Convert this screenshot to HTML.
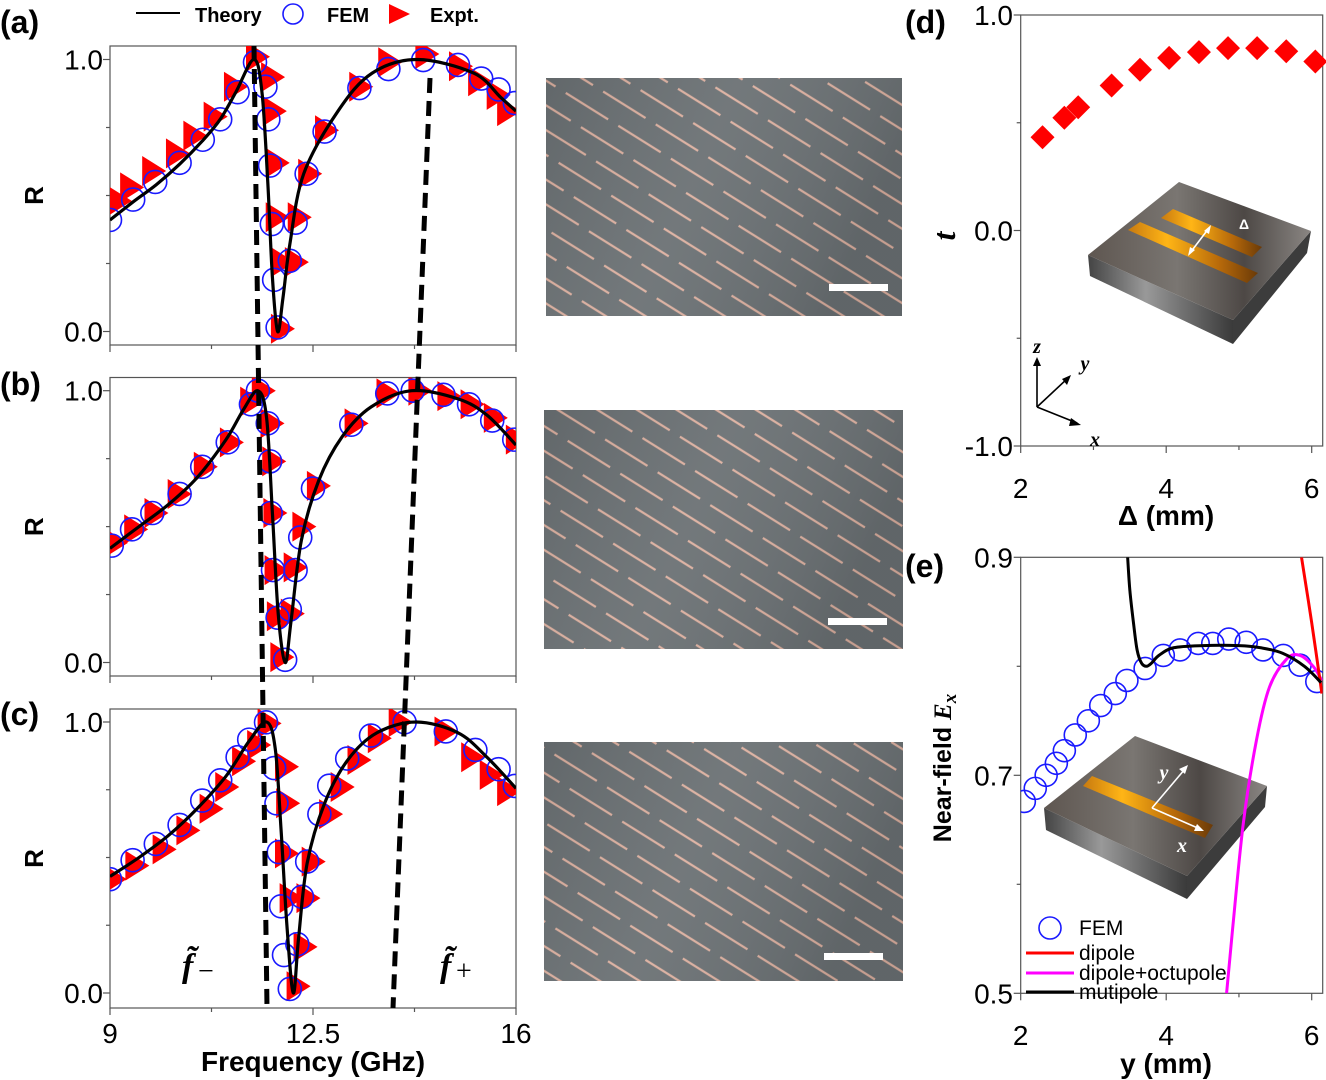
<!DOCTYPE html>
<html><head><meta charset="utf-8"><style>
html,body{margin:0;padding:0;background:#fff;}
svg{display:block;font-family:"Liberation Sans",sans-serif;}
</style></head><body>
<svg id="fig" width="1326" height="1080" viewBox="0 0 1326 1080" xmlns="http://www.w3.org/2000/svg">
<defs>
<pattern id="strips" patternUnits="userSpaceOnUse" width="124" height="42" patternTransform="rotate(32)">
<rect width="124" height="42" fill="#6a7073"/>
<line x1="2" y1="10" x2="52" y2="10" stroke="#dcb0a0" stroke-width="2.2"/>
<line x1="64" y1="10" x2="114" y2="10" stroke="#dcb0a0" stroke-width="2.2"/>
<line x1="33" y1="31" x2="83" y2="31" stroke="#dcb0a0" stroke-width="2.2"/>
<line x1="95" y1="31" x2="145" y2="31" stroke="#dcb0a0" stroke-width="2.2"/>
<line x1="-29" y1="31" x2="21" y2="31" stroke="#dcb0a0" stroke-width="2.2"/>
</pattern>
<linearGradient id="shade" x1="0" y1="0" x2="1" y2="0.3">
<stop offset="0" stop-color="#000" stop-opacity="0.08"/><stop offset="0.5" stop-color="#fff" stop-opacity="0.06"/><stop offset="1" stop-color="#000" stop-opacity="0.1"/>
</linearGradient>
<linearGradient id="gold" x1="0" y1="0" x2="1" y2="0">
<stop offset="0" stop-color="#c87a10"/><stop offset="0.3" stop-color="#ffb516"/><stop offset="0.7" stop-color="#b86a0a"/><stop offset="1" stop-color="#6a3a08"/>
</linearGradient>
<linearGradient id="slab" x1="0" y1="0" x2="1" y2="0">
<stop offset="0" stop-color="#5e5650"/><stop offset="0.4" stop-color="#7a7672"/><stop offset="0.7" stop-color="#4d4845"/><stop offset="1" stop-color="#8a8683"/>
</linearGradient>
<linearGradient id="side" x1="0" y1="0" x2="1" y2="0">
<stop offset="0" stop-color="#444"/><stop offset="0.4" stop-color="#999"/><stop offset="1" stop-color="#3a3a3a"/>
</linearGradient>
</defs>
<g id="root"></g>
</svg>
<script>
// ---------- data: panels a,b,c (R vs Frequency) ----------
const theoryA_f=[9,9.42,9.8,10.2,10.59,10.9,11.17,11.48,11.62,11.72,11.8,11.89,11.98,12.1,12.34,12.93,13.52,14.3,15.27,15.74,16];
const theoryA_R=[0.41,0.48,0.54,0.615,0.7,0.78,0.88,1.0,0.88,0.55,0.2,0.0,0.12,0.32,0.58,0.81,0.95,1.0,0.95,0.86,0.81];
const femA_f=[9.0,9.4,9.78,10.2,10.6,10.9,11.2,11.5,11.68,11.73,11.76,11.79,11.83,11.89,12.1,12.2,12.39,12.7,13.3,13.8,14.4,15.0,15.4,15.7,15.98];
const femA_R=[0.41,0.485,0.55,0.62,0.705,0.78,0.88,0.99,0.90,0.78,0.61,0.395,0.19,0.015,0.26,0.40,0.58,0.735,0.895,0.965,0.998,0.98,0.93,0.89,0.84];
const expA_f=[9.12,9.33,9.71,10.12,10.42,10.77,11.12,11.5,11.76,11.79,11.84,11.84,11.93,11.93,12.22,12.17,12.4,12.69,13.28,13.78,14.42,15.0,15.33,15.65,15.83];
const expA_R=[0.48,0.53,0.59,0.655,0.72,0.79,0.90,1.01,0.935,0.81,0.62,0.42,0.255,0.01,0.42,0.255,0.58,0.74,0.90,0.99,1.02,0.975,0.92,0.87,0.81];

const theoryB_f=[9,9.5,10,10.5,11,11.3,11.55,11.7,11.8,11.9,12.02,12.12,12.3,12.6,13,13.5,14.2,15,15.5,16];
const theoryB_R=[0.42,0.5,0.58,0.68,0.82,0.93,1.0,0.9,0.55,0.18,0.0,0.15,0.45,0.67,0.83,0.94,1.0,0.97,0.91,0.8];
const femB_f=[9.03,9.38,9.73,10.2,10.59,11.03,11.43,11.55,11.72,11.76,11.77,11.81,11.89,12.02,12.1,12.2,12.28,12.5,13.16,13.78,14.22,14.75,15.19,15.59,15.97];
const femB_R=[0.43,0.49,0.55,0.62,0.72,0.81,0.95,1.0,0.88,0.74,0.55,0.34,0.165,0.01,0.195,0.34,0.46,0.64,0.875,0.99,1.0,0.985,0.95,0.89,0.82];
const expB_f=[9.05,9.4,9.75,10.15,10.6,11.05,11.4,11.6,11.75,11.78,11.8,11.82,11.86,11.92,12.1,12.15,12.3,12.55,13.2,13.75,14.3,14.8,15.2,15.6,15.98];
const expB_R=[0.44,0.49,0.55,0.62,0.72,0.81,0.96,1.0,0.88,0.74,0.55,0.34,0.17,0.02,0.18,0.35,0.5,0.65,0.88,0.99,1.0,0.98,0.95,0.9,0.82];

const theoryC_f=[9,9.5,10,10.5,11,11.4,11.7,11.85,11.95,12.05,12.16,12.25,12.4,12.7,13.1,13.6,14.28,15,15.5,16];
const theoryC_R=[0.43,0.5,0.58,0.68,0.8,0.93,1.0,0.9,0.6,0.25,0.0,0.2,0.48,0.7,0.86,0.96,1.0,0.96,0.87,0.755];
const femC_f=[9.0,9.39,9.79,10.2,10.59,10.9,11.2,11.4,11.69,11.83,11.87,11.91,11.95,12.0,12.1,12.23,12.31,12.4,12.61,12.78,13.09,13.5,14.08,14.79,15.3,15.7,15.98];
const femC_R=[0.42,0.49,0.55,0.62,0.71,0.785,0.87,0.935,0.999,0.83,0.70,0.52,0.32,0.14,0.015,0.18,0.355,0.485,0.66,0.765,0.865,0.95,0.999,0.965,0.897,0.826,0.764];
const expC_f=[9.03,9.42,9.89,10.3,10.7,10.97,11.26,11.52,11.7,12.0,12.02,12.0,12.46,12.08,12.37,12.32,12.2,12.76,12.96,13.25,13.6,13.96,14.75,15.21,15.53,15.83];
const expC_R=[0.42,0.47,0.53,0.60,0.68,0.76,0.855,0.915,0.995,0.835,0.70,0.515,0.485,0.35,0.35,0.17,0.025,0.66,0.76,0.86,0.94,1.0,0.965,0.87,0.805,0.745];

const freqTicks=[9,12.5,16];
const freqTickLabels=["9","12.5","16"];
const rTicks=[0,1];
const rTickLabels=["0.0","1.0"];

// ---------- panel d ----------
const deltaVals=[2.30,2.60,2.79,3.25,3.64,4.04,4.45,4.85,5.25,5.65,6.05];
const tVals=[0.433,0.523,0.572,0.673,0.746,0.801,0.828,0.846,0.846,0.832,0.784];
const dXTicks=[2,4,6];
const dYTicks=[-1,0,1];
const dYTickLabels=["-1.0","0.0","1.0"];

// ---------- panel e ----------
const femE_y=[2.05,2.2,2.35,2.49,2.60,2.75,2.93,3.10,3.30,3.46,3.71,3.96,4.19,4.44,4.64,4.86,5.10,5.33,5.61,5.84,6.07];
const femE_E=[0.676,0.688,0.700,0.711,0.7226,0.737,0.750,0.764,0.775,0.787,0.798,0.810,0.815,0.821,0.821,0.825,0.822,0.815,0.810,0.801,0.786];
const multi_y=[3.47,3.5,3.55,3.6,3.66,3.73,3.8,3.9,4.1,4.5,5.0,5.3,5.6,5.9,6.13];
const multi_E=[0.9,0.87,0.84,0.815,0.803,0.800,0.803,0.81,0.817,0.819,0.819,0.817,0.812,0.80,0.785];
const dip_y=[5.86,6.0,6.14];
const dip_E=[0.9,0.84,0.775];
const octo_y=[4.83,4.92,5.06,5.24,5.42,5.66,5.84,6.02,6.14];
const octo_E=[0.5,0.564,0.656,0.732,0.781,0.807,0.810,0.800,0.787];
const eYTicks=[0.5,0.7,0.9];
const eYTickLabels=["0.5","0.7","0.9"];

const NS="http://www.w3.org/2000/svg";
const root=document.getElementById('root');
function mk(tag,attrs,parent){const e=document.createElementNS(NS,tag);for(const k in attrs)e.setAttribute(k,attrs[k]);(parent||root).appendChild(e);return e;}
function txt(s,attrs,parent){const e=mk('text',attrs,parent);e.textContent=s;return e;}
function lin(d0,d1,r0,r1){return v=>r0+(v-d0)/(d1-d0)*(r1-r0);}
function crPath(xs,ys){let d=`M${xs[0]},${ys[0]}`;for(let i=0;i<xs.length-1;i++){const x0=xs[Math.max(0,i-1)],y0=ys[Math.max(0,i-1)],x1=xs[i],y1=ys[i],x2=xs[i+1],y2=ys[i+1],x3=xs[Math.min(xs.length-1,i+2)],y3=ys[Math.min(xs.length-1,i+2)];d+=` C${x1+(x2-x0)/6},${y1+(y2-y0)/6} ${x2-(x3-x1)/6},${y2-(y3-y1)/6} ${x2},${y2}`;}return d;}

const panels=[
 {id:'a',top:46,bot:345,y1:59.5,y0:331.5,tf:theoryA_f,tR:theoryA_R,ff:femA_f,fR:femA_R,ef:expA_f,eR:expA_R,lab:'(a)',ly:33},
 {id:'b',top:377.5,bot:676,y1:390.7,y0:662.5,tf:theoryB_f,tR:theoryB_R,ff:femB_f,fR:femB_R,ef:expB_f,eR:expB_R,lab:'(b)',ly:395},
 {id:'c',top:709,bot:1008,y1:722,y0:993,tf:theoryC_f,tR:theoryC_R,ff:femC_f,fR:femC_R,ef:expC_f,eR:expC_R,lab:'(c)',ly:725}
];
const L=110,Rr=516;
const fx=lin(9,16,L,Rr);
panels.forEach(p=>{
 const ry=lin(0,1,p.y0,p.y1);
 const g=mk('g',{});
 
 
 const cp=mk('clipPath',{id:'clip'+p.id},g);mk('rect',{x:L,y:p.top,width:Rr-L,height:p.bot-p.top},cp);
 const fr=mk('rect',{x:L,y:p.top,width:Rr-L,height:p.bot-p.top,fill:'none',stroke:'#555','stroke-width':1.2},g);
 
 
 [0,0.25,0.5,0.75,1].forEach(v=>{mk('line',{x1:L-(v===0||v===1?7:4),x2:L,y1:ry(v),y2:ry(v),stroke:'#555','stroke-width':1.2},g);});
 rTicks.forEach((v,i)=>{const t=txt(rTickLabels[i],{x:L-7,y:ry(v)+10,'text-anchor':'end','font-size':28},g);
  
  });
 [9,10.75,12.5,14.25,16].forEach(v=>{mk('line',{x1:fx(v),x2:fx(v),y1:p.bot,y2:p.bot+([9,12.5,16].includes(v)?7:4),stroke:'#555','stroke-width':1.2},g);});
 const yl=txt('R',{x:0,y:0,transform:`translate(43,${(p.top+p.bot)/2}) rotate(-90)`,'text-anchor':'middle','font-size':26,'font-weight':'bold'},g);
 
 
 const pl=txt(p.lab,{x:0,y:p.ly,'font-size':32,'font-weight':'bold'},g);
 
 
 const cg=mk('g',{'clip-path':`url(#clip${p.id})`},g);
 p.ef.forEach((f,i)=>{const x=fx(f),y=ry(p.eR[i]);const tr=mk('polygon',{points:`${x-9},${y-15} ${x+15},${y} ${x-9},${y+15}`,fill:'#ff0000'},cg);
  
  });
 p.ff.forEach((f,i)=>{const c=mk('circle',{cx:fx(f),cy:ry(p.fR[i]),r:11.5,fill:'none',stroke:'#1a1aff','stroke-width':1.6},cg);
  
  });
 const th=mk('path',{d:crPath(p.tf.map(fx),p.tR.map(ry)),fill:'none',stroke:'#000','stroke-width':3.2},cg);
 
 
});
freqTicks.forEach((v,i)=>{const t=txt(freqTickLabels[i],{x:fx(v),y:1043,'text-anchor':'middle','font-size':28},root);
 
 });
const xt=txt('Frequency (GHz)',{x:313,y:1071,'text-anchor':'middle','font-size':28,'font-weight':'bold'});


const dl=mk('line',{x1:254,y1:46,x2:267,y2:1008,stroke:'#000','stroke-width':5,'stroke-dasharray':'15 8'});


const dr=mk('line',{x1:430,y1:78,x2:393,y2:1008,stroke:'#000','stroke-width':5,'stroke-dasharray':'15 8'});


const fm=txt('f̃',{x:182,y:977,'font-size':34,'font-weight':'bold','font-style':'italic','font-family':'Liberation Serif,serif'});


txt('−',{x:198,y:980,'font-size':28,'font-family':'Liberation Serif,serif'});
const fp=txt('f̃',{x:440,y:977,'font-size':34,'font-weight':'bold','font-style':'italic','font-family':'Liberation Serif,serif'});


txt('+',{x:456,y:980,'font-size':28,'font-family':'Liberation Serif,serif'});
const lg=mk('g',{});


mk('line',{x1:136,y1:13,x2:180,y2:13,stroke:'#000','stroke-width':2},lg);
txt('Theory',{x:195,y:22,'font-size':20,'font-weight':'bold'},lg);
mk('circle',{cx:293,cy:14,r:10,fill:'none',stroke:'#1a1aff','stroke-width':1.6},lg);
txt('FEM',{x:327,y:22,'font-size':20,'font-weight':'bold'},lg);
mk('polygon',{points:'389,4 410,14 389,24',fill:'#ff0000'},lg);
txt('Expt.',{x:430,y:22,'font-size':20,'font-weight':'bold'},lg);

[[546,78,356,238,829,284],[544,410,359,239,828,618],[544,742,359,239,824,953]].forEach((r,i)=>{
 const ph=mk('rect',{x:r[0],y:r[1],width:r[2],height:r[3],fill:'url(#strips)'});
 
 
 mk('rect',{x:r[0],y:r[1],width:r[2],height:r[3],fill:'url(#shade)'});
 const sb=mk('rect',{x:r[4],y:r[5],width:59,height:7,fill:'#fff'});
 
 
});

// ---------- panel d ----------
const DL=1020.7,DR=1322.7;
const dx=lin(2,6,DL,1311.7);
const dy=lin(-1,1,446,15);
const gd=mk('g',{});


mk('rect',{x:DL,y:15,width:DR-DL,height:431,fill:'none',stroke:'#555','stroke-width':1.2},gd);
[-1,-0.5,0,0.5,1].forEach(v=>mk('line',{x1:DL-(v%1===0?7:4),x2:DL,y1:dy(v),y2:dy(v),stroke:'#555','stroke-width':1.2},gd));
[2,3,4,5,6].forEach(v=>mk('line',{x1:dx(v),x2:dx(v),y1:446,y2:446+(v%2===0?7:4),stroke:'#555','stroke-width':1.2},gd));
dYTicks.forEach((v,i)=>{const t=txt(dYTickLabels[i],{x:1013,y:dy(v)+10,'text-anchor':'end','font-size':28},gd);
 
 });
dXTicks.forEach(v=>{const t=txt(String(v),{x:dx(v),y:498,'text-anchor':'middle','font-size':28},gd);
 
 });
txt('Δ (mm)',{x:1166,y:525,'text-anchor':'middle','font-size':28,'font-weight':'bold'},gd);
txt('t',{x:0,y:0,transform:'translate(955,236) rotate(-90)','text-anchor':'middle','font-size':32,'font-weight':'bold','font-style':'italic','font-family':'Liberation Serif,serif'},gd);
txt('(d)',{x:905,y:33,'font-size':32,'font-weight':'bold'},gd);
const ins=mk('g',{},gd);


mk('polygon',{points:'1088,255 1233,320 1233,344 1090,276',fill:'url(#side)'},ins);
mk('polygon',{points:'1233,320 1311,231 1307,253 1233,344',fill:'#3c3c3c'},ins);
mk('polygon',{points:'1088,255 1179,182 1311,231 1233,320',fill:'url(#slab)'},ins);
mk('polygon',{points:'1161,218 1173,209 1262,247 1252,257',fill:'url(#gold)'},ins);
mk('polygon',{points:'1128,230 1140,222 1258,273 1247,283',fill:'url(#gold)'},ins);
mk('line',{x1:1190,y1:253,x2:1209,y2:228,stroke:'#fff','stroke-width':1.6},ins);
mk('polygon',{points:'1188,256 1190,247 1195,250',fill:'#fff'},ins);
mk('polygon',{points:'1211,225 1209,234 1204,231',fill:'#fff'},ins);
txt('Δ',{x:1244,y:229,'text-anchor':'middle','font-size':14,'font-weight':'bold',fill:'#fff'},ins);
const ax=mk('g',{stroke:'#000','stroke-width':1.6},gd);
mk('line',{x1:1037,y1:407,x2:1037,y2:362},ax);
mk('line',{x1:1037,y1:407,x2:1068,y2:378},ax);
mk('line',{x1:1037,y1:407,x2:1077,y2:423},ax);
mk('polygon',{points:'1037,357 1033,366 1041,366',fill:'#000'},gd);
mk('polygon',{points:'1071,375 1062,379 1067,385',fill:'#000'},gd);
mk('polygon',{points:'1081,425 1071,418 1069,426',fill:'#000'},gd);
const ff='Liberation Serif,serif';
txt('z',{x:1037,y:353,'text-anchor':'middle','font-size':20,'font-style':'italic','font-weight':'bold','font-family':ff},gd);
txt('y',{x:1085,y:370,'text-anchor':'middle','font-size':20,'font-style':'italic','font-weight':'bold','font-family':ff},gd);
txt('x',{x:1095,y:446,'text-anchor':'middle','font-size':20,'font-style':'italic','font-weight':'bold','font-family':ff},gd);
deltaVals.forEach((v,i)=>{const x=dx(v),y=dy(tVals[i]);const p=mk('polygon',{points:`${x},${y-12} ${x+12},${y} ${x},${y+12} ${x-12},${y}`,fill:'#ff0000'},gd);
 
 });

// ---------- panel e ----------
const ex=dx;
const ey=lin(0.5,0.9,993.3,557.3);
const ge=mk('g',{});


const cpe=mk('clipPath',{id:'clipe'},ge);mk('rect',{x:DL,y:557.3,width:DR-DL,height:436},cpe);
mk('rect',{x:DL,y:557.3,width:DR-DL,height:436,fill:'none',stroke:'#555','stroke-width':1.2},ge);
[0.5,0.6,0.7,0.8,0.9].forEach((v,i)=>mk('line',{x1:DL-(i%2===0?7:4),x2:DL,y1:ey(v),y2:ey(v),stroke:'#555','stroke-width':1.2},ge));
[2,3,4,5,6].forEach(v=>mk('line',{x1:ex(v),x2:ex(v),y1:993.3,y2:993.3+(v%2===0?7:4),stroke:'#555','stroke-width':1.2},ge));
eYTicks.forEach((v,i)=>{const t=txt(eYTickLabels[i],{x:1013,y:ey(v)+10,'text-anchor':'end','font-size':28},ge);
 
 });
dXTicks.forEach(v=>{const t=txt(String(v),{x:ex(v),y:1045,'text-anchor':'middle','font-size':28},ge);
 
 });
txt('y (mm)',{x:1166,y:1073,'text-anchor':'middle','font-size':28,'font-weight':'bold'},ge);
const ylE=txt('Near-field ',{x:0,y:0,transform:'translate(951,768) rotate(-90)','text-anchor':'middle','font-size':25,'font-weight':'bold'},ge);
const ts=mk('tspan',{'font-family':ff,'font-style':'italic','font-weight':'bold'},ylE);ts.textContent='E';
const ts2=mk('tspan',{'font-family':ff,'font-style':'italic','font-weight':'bold','font-size':19,dy:5},ylE);ts2.textContent='x';
txt('(e)',{x:905,y:577,'font-size':32,'font-weight':'bold'},ge);
const ie=mk('g',{},ge);


mk('polygon',{points:'1044,808 1187,876 1187,899 1046,830',fill:'url(#side)'},ie);
mk('polygon',{points:'1187,876 1267,786 1265,807 1187,899',fill:'#3c3c3c'},ie);
mk('polygon',{points:'1044,808 1135,736 1267,786 1187,876',fill:'url(#slab)'},ie);
mk('polygon',{points:'1083,786 1092,776 1213,825 1205,838',fill:'url(#gold)'},ie);
mk('line',{x1:1152,y1:808,x2:1185,y2:769,stroke:'#fff','stroke-width':1.6},ie);
mk('line',{x1:1152,y1:808,x2:1200,y2:829,stroke:'#fff','stroke-width':1.6},ie);
mk('polygon',{points:'1188,765 1179,769 1185,774',fill:'#fff'},ie);
mk('polygon',{points:'1204,831 1194,831 1197,824',fill:'#fff'},ie);
txt('y',{x:1164,y:779,'text-anchor':'middle','font-size':20,'font-style':'italic','font-weight':'bold','font-family':ff,fill:'#fff'},ie);
txt('x',{x:1182,y:852,'text-anchor':'middle','font-size':20,'font-style':'italic','font-weight':'bold','font-family':ff,fill:'#fff'},ie);
const ce=mk('g',{'clip-path':'url(#clipe)'},ge);
femE_y.forEach((v,i)=>{const c=mk('circle',{cx:ex(v),cy:ey(femE_E[i]),r:11,fill:'none',stroke:'#1a1aff','stroke-width':1.6},ce);
 
 });
const pm=mk('path',{d:crPath(octo_y.map(ex),octo_E.map(ey)),fill:'none',stroke:'#ff00ff','stroke-width':3},ce);


const pr=mk('path',{d:crPath(dip_y.map(ex),dip_E.map(ey)),fill:'none',stroke:'#ff0000','stroke-width':3},ce);


const pk=mk('path',{d:crPath(multi_y.map(ex),multi_E.map(ey)),fill:'none',stroke:'#000','stroke-width':3},ce);


const le=mk('g',{},ge);


mk('circle',{cx:1050,cy:928,r:11,fill:'none',stroke:'#1a1aff','stroke-width':1.6},le);
txt('FEM',{x:1079,y:935,'font-size':21},le);
mk('line',{x1:1026,y1:953,x2:1074,y2:953,stroke:'#ff0000','stroke-width':3},le);
txt('dipole',{x:1079,y:960,'font-size':21},le);
mk('line',{x1:1026,y1:973,x2:1074,y2:973,stroke:'#ff00ff','stroke-width':3},le);
txt('dipole+octupole',{x:1079,y:980,'font-size':21},le);
mk('line',{x1:1026,y1:992,x2:1074,y2:992,stroke:'#000','stroke-width':3},le);
txt('mutipole',{x:1079,y:999,'font-size':21},le);
</script>
</body></html>
